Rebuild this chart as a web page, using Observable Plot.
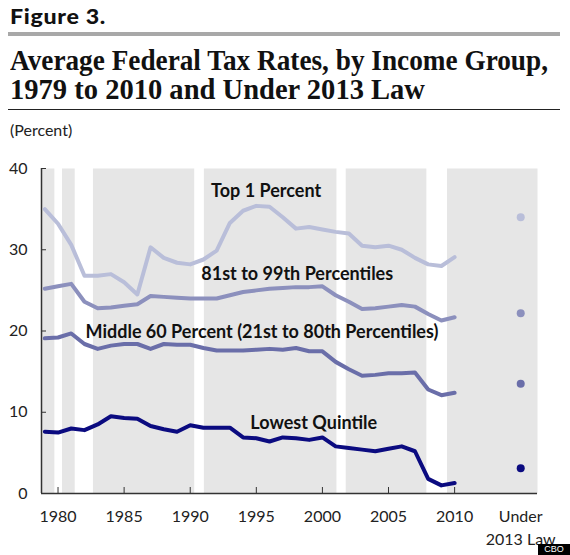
<!DOCTYPE html>
<html><head><meta charset="utf-8">
<script src="https://cdn.jsdelivr.net/npm/d3@7"></script>
<script src="https://cdn.jsdelivr.net/npm/@observablehq/plot@0.6"></script>
<style>
body{margin:0;background:#fff;width:570px;height:555px;position:relative;overflow:hidden;font-family:Lato,sans-serif}
#fig{position:absolute;left:10px;top:4px;font:900 21px Lato,Roboto,"Liberation Sans",sans-serif;color:#111;letter-spacing:0.6px;line-height:24px}
.rule1{position:absolute;left:8px;top:32px;width:552px;height:4px;background:#a8a8a8}
.title{position:absolute;left:10px;font:bold 30px "Liberation Serif",serif;color:#111;white-space:nowrap;transform-origin:0 0;line-height:26px}
.rule2{position:absolute;left:8px;top:109px;width:552px;height:1px;background:#222}
#unit{position:absolute;left:10px;top:120px;font:16px Lato,sans-serif;color:#222}
#chart{position:absolute;left:0;top:150px}
#cbo{position:absolute;left:538px;top:544px;width:32px;height:11px;background:#000;color:#fff;font:9px "Liberation Sans",sans-serif;text-align:center;line-height:11px}
</style></head><body>
<div id="fig">Figure 3.</div>
<div class="rule1"></div>
<div class="title" id="t1" style="top:47px">Average Federal Tax Rates, by Income Group,</div>
<div class="title" id="t2" style="top:76px">1979 to 2010 and Under 2013 Law</div>
<div class="rule2"></div>
<div id="unit">(Percent)</div>
<div id="chart"></div>
<div id="cbo">CBO</div>
<script>
// ---- data ----
const years = d3.range(1979, 2011);
const groups = ["Top 1 Percent", "81st to 99th Percentiles", "Middle 60 Percent (21st to 80th Percentiles)", "Lowest Quintile"];
const top1 = [35.0,33.2,30.6,26.8,26.8,27.0,26.0,24.5,30.3,29.0,28.4,28.2,28.8,29.9,33.3,34.8,35.4,35.3,34.0,32.6,32.8,32.5,32.2,32.0,30.5,30.3,30.5,30.0,29.0,28.2,28.0,29.1];
const p81to99 = [25.2,25.5,25.8,23.6,22.8,22.9,23.1,23.3,24.3,24.2,24.1,24.0,24.0,24.0,24.4,24.8,25.0,25.2,25.3,25.4,25.4,25.5,24.4,23.6,22.7,22.8,23.0,23.2,23.0,22.1,21.3,21.7];
const middle60 = [19.1,19.2,19.7,18.4,17.8,18.2,18.4,18.4,17.8,18.4,18.3,18.3,17.9,17.6,17.6,17.6,17.7,17.8,17.7,17.9,17.5,17.5,16.2,15.3,14.5,14.6,14.8,14.8,14.9,12.8,12.1,12.4];
const lowest = [7.6,7.5,8.0,7.8,8.5,9.5,9.3,9.2,8.3,7.9,7.6,8.4,8.1,8.1,8.1,6.9,6.8,6.4,6.9,6.8,6.6,6.9,5.8,5.6,5.4,5.2,5.5,5.8,5.2,1.8,1.0,1.3];
const under2013 = [34.0, 22.2, 13.5, 3.1];
const recessionStart = [1979.76, 1981.30, 1990.34, 2001.10, 2007.90];
const recessionEnd   = [1980.34, 1982.68, 1991.07, 2001.80, 2009.46];
const yTicks = [0, 10, 20, 30, 40];
const yearTicks = [1980, 1985, 1990, 1995, 2000, 2005, 2010];
const lawSlot = 2015;
const lawLabel = "Under\n2013 Law";

// ---- build tables ----
const seriesValues = [top1, p81to99, middle60, lowest];
const lineData = groups.flatMap((g, i) => years.map((yr, j) => ({group: g, year: yr, value: seriesValues[i][j]})));
const lawData = groups.map((g, i) => ({group: g, slot: lawSlot, value: under2013[i]}));
const recessions = recessionStart.map((s, i) => ({start: s, end: recessionEnd[i]}));

// ---- styling / layout ----
const colors = ["#b9bed9", "#8c90bd", "#6a6ea9", "#0b0b80"];
const xDomain = [1978.75, 2016.27];
const labelPos = [
  {x: 1991.58, y: 37.2},
  {x: 1990.84, y: 27.0},
  {x: 1982.08, y: 19.85},
  {x: 1994.55, y: 8.6}
];
const labels = groups.map((g, i) => ({text: g, ...labelPos[i]}));

const chart = Plot.plot({
  width: 570, height: 405,
  marginLeft: 41, marginRight: 33, marginTop: 18, marginBottom: 62,
  x: {domain: xDomain},
  y: {domain: [0, 40]},
  color: {domain: groups, range: colors},
  style: {fontFamily: "Lato, sans-serif", fontSize: "16px", color: "#222", background: "transparent", overflow: "visible"},
  marks: [
    Plot.frame({fill: "#e6e6e6", stroke: null}),
    Plot.rect(recessions, {x1: "start", x2: "end", fill: "white"}),
    Plot.axisY({ticks: yTicks, tickSize: -5, tickPadding: 19, stroke: "#333", fontSize: 16}),
    Plot.axisX({ticks: yearTicks, tickSize: -6, text: null, stroke: "#333"}),
    Plot.axisX({ticks: [...yearTicks, lawSlot], tickSize: 0, tickPadding: 12, fontSize: 16, lineHeight: 1.45,
      tickFormat: d => d === lawSlot ? lawLabel : String(d)}),
    Plot.ruleY([0], {stroke: "#333", strokeWidth: 1.5}),
    Plot.ruleX([xDomain[0]], {stroke: "#333", strokeWidth: 1.5}),
    Plot.line(lineData, {x: "year", y: "value", z: "group", stroke: "group", strokeWidth: 4, strokeLinejoin: "round"}),
    Plot.dot(lawData, {x: "slot", y: "value", fill: "group", r: 4}),
    Plot.text(labels, {x: "x", y: "y", text: "text", textAnchor: "start", fontWeight: "bold", fontSize: 18, fill: "#111"})
  ]
});
document.getElementById("chart").appendChild(chart);

// fit the condensed serif title lines to the reference widths
[["t1", 538], ["t2", 415], ["fig", 96]].forEach(([id, w]) => {
  const el = document.getElementById(id);
  el.style.transformOrigin = "0 0";
  const cur = el.getBoundingClientRect().width;
  const span = document.createElement("span");
  span.textContent = el.textContent;
  el.textContent = "";
  el.appendChild(span);
  const tw = span.getBoundingClientRect().width;
  el.style.transform = `scaleX(${w / tw})`;
});
</script>
</body></html>
